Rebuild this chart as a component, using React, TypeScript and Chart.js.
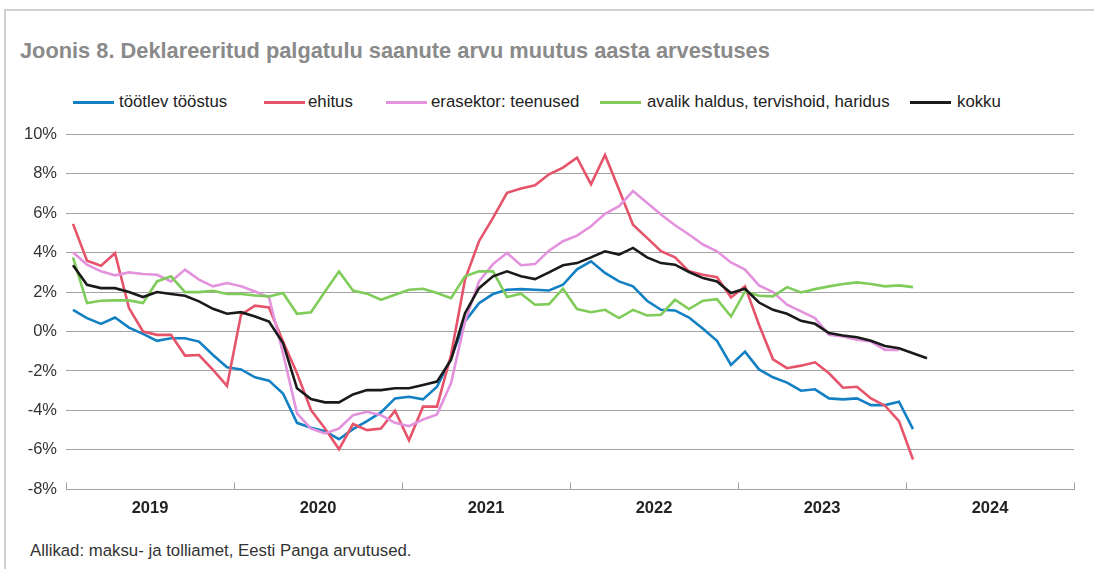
import React, { useEffect, useRef } from "react";
import { Chart, registerables } from "chart.js";

Chart.register(...registerables);

const TITLE = "Joonis 8. Deklareeritud palgatulu saanute arvu muutus aasta arvestuses";
const SOURCE = "Allikad: maksu- ja tolliamet, Eesti Panga arvutused.";
const YEARS = ["2019", "2020", "2021", "2022", "2023", "2024"];
const Y_TICKS = [-8, -6, -4, -2, 0, 2, 4, 6, 8, 10];
const SERIES_NAMES = ["töötlev tööstus", "ehitus", "erasektor: teenused", "avalik haldus, tervishoid, haridus", "kokku"];

// monthly values from Jan 2019
const tootlev = [
  1.10, 0.68, 0.39, 0.71, 0.20, -0.12, -0.47, -0.34, -0.34, -0.51, -1.19, -1.81,
  -1.92, -2.32, -2.49, -3.14, -4.63, -4.88, -5.05, -5.46, -4.95, -4.54, -4.10, -3.39,
  -3.31, -3.44, -2.80, -1.36, 0.51, 1.44, 1.90, 2.12, 2.15, 2.12, 2.08, 2.37,
  3.15, 3.56, 2.97, 2.54, 2.29, 1.56, 1.10, 1.07, 0.71, 0.14, -0.47, -1.69,
  -1.02, -1.92, -2.32, -2.59, -3.00, -2.93, -3.39, -3.44, -3.39, -3.73, -3.73, -3.56,
  -4.95,
];
const ehitus = [
  5.46, 3.59, 3.34, 3.97, 1.19, 0.00, -0.17, -0.17, -1.22, -1.19, -1.95, -2.76,
  0.85, 1.31, 1.22, -0.50, -2.12, -3.98, -4.92, -5.97, -4.69, -5.00, -4.92, -4.02,
  -5.51, -3.81, -3.81, -1.19, 2.63, 4.58, 5.76, 7.03, 7.25, 7.42, 7.97, 8.31,
  8.81, 7.46, 8.95, 7.20, 5.42, 4.75, 4.07, 3.76, 3.05, 2.88, 2.75, 1.73,
  2.29, 0.34, -1.41, -1.86, -1.73, -1.56, -2.12, -2.85, -2.80, -3.39, -3.76, -4.54,
  -6.49,
];
const erasektor = [
  4.02, 3.39, 3.05, 2.85, 3.00, 2.92, 2.88, 2.54, 3.14, 2.63, 2.29, 2.46,
  2.29, 2.03, 1.73, -1.10, -4.15, -4.92, -5.17, -4.92, -4.24, -4.07, -4.24, -4.63,
  -4.80, -4.46, -4.20, -2.63, 0.51, 2.54, 3.42, 3.98, 3.36, 3.42, 4.10, 4.58,
  4.86, 5.34, 5.97, 6.36, 7.12, 6.53, 5.93, 5.39, 4.92, 4.41, 4.07, 3.50,
  3.14, 2.34, 2.00, 1.36, 1.02, 0.68, -0.17, -0.25, -0.42, -0.51, -0.93, -0.93,
];
const avalik = [
  3.76, 1.44, 1.56, 1.58, 1.58, 1.44, 2.54, 2.80, 2.00, 2.00, 2.07, 1.90,
  1.90, 1.83, 1.78, 1.95, 0.90, 0.98, 2.03, 3.05, 2.08, 1.92, 1.61, 1.86,
  2.12, 2.17, 1.95, 1.69, 2.80, 3.05, 3.05, 1.75, 1.92, 1.36, 1.39, 2.17,
  1.14, 0.98, 1.10, 0.68, 1.10, 0.81, 0.85, 1.61, 1.14, 1.56, 1.64, 0.76,
  2.03, 1.81, 1.78, 2.25, 1.98, 2.15, 2.29, 2.41, 2.49, 2.41, 2.29, 2.34,
  2.25,
];
const kokku = [
  3.36, 2.37, 2.20, 2.20, 2.00, 1.75, 2.00, 1.90, 1.81, 1.53, 1.15, 0.90,
  0.98, 0.76, 0.51, -0.58, -2.88, -3.42, -3.59, -3.59, -3.19, -2.97, -2.97, -2.88,
  -2.88, -2.71, -2.54, -1.44, 0.93, 2.20, 2.80, 3.05, 2.80, 2.66, 3.00, 3.36,
  3.47, 3.76, 4.07, 3.90, 4.24, 3.76, 3.47, 3.39, 3.02, 2.71, 2.54, 1.95,
  2.17, 1.47, 1.10, 0.90, 0.54, 0.39, -0.08, -0.20, -0.29, -0.47, -0.73, -0.85,
  -1.10, -1.36,
];

const SERIES = [tootlev, ehitus, erasektor, avalik, kokku];
const COLORS = ["#1380c4", "#e5546a", "#e393dd", "#80cc5a", "#1a1a1a"];
const LEGEND_LINE_X = [73, 264, 386, 600, 910];
const LEGEND_TEXT_X = [119, 308, 431, 647, 957];

const FONT = "'Liberation Sans', Arial, Helvetica, sans-serif";
const GRID = "#a3a3a3";

const yearTicksPlugin = {
  id: "yearTicks",
  afterDraw(chart: any) {
    const xs = chart.scales.x;
    const bottom = chart.chartArea.bottom;
    const ctx = chart.ctx;
    ctx.save();
    ctx.strokeStyle = GRID;
    ctx.lineWidth = 1;
    const bounds = [...YEARS.map((_, i) => i * 12 - 0.5), YEARS.length * 12 - 0.5];
    bounds.forEach((b) => {
      const x = Math.round(xs.getPixelForValue(b)) + 0.5;
      ctx.beginPath();
      ctx.moveTo(x, bottom);
      ctx.lineTo(x, bottom - 7);
      ctx.stroke();
    });
    ctx.restore();
  },
};

export default function App() {
  const ref = useRef<HTMLCanvasElement | null>(null);

  useEffect(() => {
    document.body.style.margin = "0";
    if (!ref.current) return;
    const datasets = SERIES.map((s, k) => ({
      label: SERIES_NAMES[k],
      data: s.map((v, i) => ({ x: i, y: v })),
      borderColor: COLORS[k],
      backgroundColor: COLORS[k],
      borderWidth: 2.6,
      pointRadius: 0,
      tension: 0,
      fill: false,
      order: SERIES.length - 1 - k,
    }));
    const chart = new Chart(ref.current, {
      type: "line",
      data: { datasets },
      plugins: [yearTicksPlugin],
      options: {
        animation: false,
        responsive: false,
        devicePixelRatio: 1,
        layout: { padding: { top: 24.3, right: 20, left: 0, bottom: 0 } },
        plugins: { legend: { display: false }, tooltip: { enabled: false } },
        scales: {
          x: {
            type: "linear",
            min: -0.5,
            max: YEARS.length * 12 - 0.5,
            afterBuildTicks: (scale: any) => {
              scale.ticks = YEARS.map((_, i) => ({ value: i * 12 + 5.5 }));
            },
            afterFit: (scale: any) => {
              scale.height = 40.7;
            },
            ticks: {
              autoSkip: false,
              maxRotation: 0,
              padding: 9,
              color: "#222",
              font: { family: FONT, size: 16.5, weight: "bold" },
              callback: (v: any) => YEARS[Math.round((Number(v) - 5.5) / 12)] ?? "",
            },
            grid: { display: false, drawTicks: false },
            border: { display: true, color: GRID, width: 1 },
          },
          y: {
            min: -8,
            max: 10,
            afterBuildTicks: (scale: any) => {
              scale.ticks = Y_TICKS.map((v) => ({ value: v }));
            },
            afterFit: (scale: any) => {
              scale.width = 66;
            },
            ticks: {
              padding: 9,
              color: "#333",
              font: { family: FONT, size: 16.5 },
              callback: (v: any) => v + "%",
            },
            grid: { color: GRID, lineWidth: 1, drawTicks: false },
            border: { display: false },
          },
        },
      },
    });
    return () => chart.destroy();
  }, []);

  return (
    <div
      style={{
        position: "relative",
        width: 1094,
        height: 569,
        overflow: "hidden",
        background: "#fff",
        fontFamily: FONT,
      }}
    >
      <div
        style={{
          position: "absolute",
          left: 4,
          top: 9,
          right: -10,
          bottom: -10,
          borderTop: "2px solid #cfcfcf",
          borderLeft: "2px solid #cfcfcf",
        }}
      />
      <div
        style={{
          position: "absolute",
          left: 20,
          top: 38,
          lineHeight: "26px",
          fontSize: 21.8,
          fontWeight: "bold",
          color: "#8a8a8a",
          whiteSpace: "nowrap",
        }}
      >
        {TITLE}
      </div>
      {SERIES_NAMES.map((name, k) => (
        <React.Fragment key={name}>
          <div
            style={{
              position: "absolute",
              left: LEGEND_LINE_X[k],
              top: 101,
              width: 41,
              height: 3,
              background: COLORS[k],
            }}
          />
          <div
            style={{
              position: "absolute",
              left: LEGEND_TEXT_X[k],
              top: 92,
              lineHeight: "20px",
              fontSize: 16.8,
              color: "#222",
              whiteSpace: "nowrap",
            }}
          >
            {name}
          </div>
        </React.Fragment>
      ))}
      <canvas
        ref={ref}
        width={1094}
        height={420}
        style={{ position: "absolute", left: 0, top: 110, width: 1094, height: 420 }}
      />
      <div
        style={{
          position: "absolute",
          left: 30,
          top: 541,
          lineHeight: "20px",
          fontSize: 16.8,
          color: "#333",
          whiteSpace: "nowrap",
        }}
      >
        {SOURCE}
      </div>
    </div>
  );
}
